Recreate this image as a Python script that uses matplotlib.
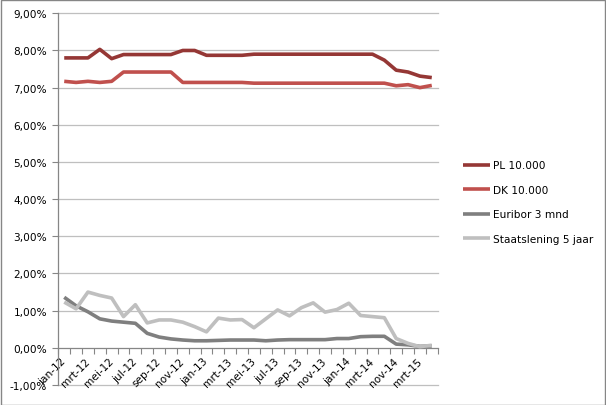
import numpy as np
import matplotlib
matplotlib.use("Agg")
import matplotlib.pyplot as plt
from matplotlib.patches import Rectangle

# ---- data ----
n_cat = 32
tick_labels = ["jan-12", "mrt-12", "mei-12", "jul-12", "sep-12", "nov-12",
               "jan-13", "mrt-13", "mei-13", "jul-13", "sep-13", "nov-13",
               "jan-14", "mrt-14", "nov-14", "mrt-15"]

pl = [7.80, 7.80, 7.80, 8.03, 7.78, 7.89, 7.89, 7.89, 7.89, 7.89, 8.00, 8.00,
      7.87, 7.87, 7.87, 7.87, 7.90, 7.90, 7.90, 7.90, 7.90, 7.90, 7.90, 7.90,
      7.90, 7.90, 7.90, 7.74, 7.47, 7.42, 7.31, 7.27]
dk = [7.17, 7.14, 7.17, 7.14, 7.17, 7.42, 7.42, 7.42, 7.42, 7.42, 7.14, 7.14,
      7.14, 7.14, 7.14, 7.14, 7.12, 7.12, 7.12, 7.12, 7.12, 7.12, 7.12, 7.12,
      7.12, 7.12, 7.12, 7.12, 7.05, 7.08, 7.00, 7.06]
euribor = [1.36, 1.13, 0.97, 0.78, 0.72, 0.69, 0.66, 0.39, 0.29, 0.24, 0.21, 0.19,
           0.19, 0.20, 0.21, 0.21, 0.21, 0.19, 0.21, 0.22, 0.22, 0.22, 0.22, 0.25,
           0.25, 0.30, 0.31, 0.31, 0.10, 0.08, 0.04, 0.05]
staat = [1.23, 1.05, 1.50, 1.41, 1.34, 0.84, 1.16, 0.67, 0.75, 0.75, 0.69, 0.57,
         0.43, 0.80, 0.75, 0.76, 0.54, 0.78, 1.02, 0.86, 1.08, 1.21, 0.96, 1.03,
         1.20, 0.87, 0.84, 0.81, 0.25, 0.12, 0.03, 0.07]

series_names = ["PL 10.000", "DK 10.000", "Euribor 3 mnd", "Staatslening 5 jaar"]
series_colors = ["#953735", "#C0504D", "#7F7F7F", "#BFBFBF"]

y_ticks = [-1, 0, 1, 2, 3, 4, 5, 6, 7, 8, 9]
y_tick_labels = ["-1,00%", "0,00%", "1,00%", "2,00%", "3,00%", "4,00%",
                 "5,00%", "6,00%", "7,00%", "8,00%", "9,00%"]

# ---- figure ----
W, H = 606, 406
fig = plt.figure(figsize=(W / 100, H / 100), dpi=100)
ax = fig.add_axes([58.3 / W, 1 - 386 / H, (437.7 - 58.3) / W, (386 - 14.3) / H])

x = np.arange(n_cat)
for vals, name, col in zip([pl, dk, euribor, staat], series_names, series_colors):
    ax.plot(x, vals, color=col, lw=2.6, label=name, solid_joinstyle="round",
            solid_capstyle="butt", zorder=3)

ax.set_xlim(-0.5, n_cat - 0.5)
ax.set_ylim(-1, 9)

# gridlines
for yv in y_ticks:
    if yv != 0:
        ax.axhline(yv, color="#BFBFBF", lw=0.9, zorder=1, clip_on=False)

ax.set_yticks(y_ticks)
ax.set_yticklabels(y_tick_labels, fontsize=7.6, color="#000000")
ax.tick_params(axis="y", length=4, width=0.8, color="#868686", pad=4)

# x axis at zero
for s in ["top", "right"]:
    ax.spines[s].set_visible(False)
ax.spines["left"].set_color("#868686")
ax.spines["left"].set_linewidth(0.9)
ax.spines["bottom"].set_position(("data", 0))
ax.spines["bottom"].set_color("#868686")
ax.spines["bottom"].set_linewidth(0.9)
ax.spines["bottom"].set_zorder(2)

ax.set_xticks(np.arange(-0.5, n_cat, 1))
ax.set_xticklabels([])
ax.tick_params(axis="x", which="major", length=4, width=0.8, color="#868686",
               direction="out")
ax.set_xticks(np.arange(0, n_cat, 2), minor=True)
ax.set_xticklabels(tick_labels, minor=True, fontsize=7.6, rotation=45,
                   ha="right", va="center", rotation_mode="anchor")
ax.tick_params(axis="x", which="minor", length=0, pad=8)

ax.legend(loc="center left", bbox_to_anchor=(462.7 / W, 1 - 203 / H),
          bbox_transform=fig.transFigure, frameon=False, fontsize=7.6,
          handlelength=2.6, handletextpad=0.25, labelspacing=1.37,
          borderpad=0, borderaxespad=0)

fig.patches.append(Rectangle((0.5 / W, 0.5 / H), 1 - 1.5 / W, 1 - 1.5 / H,
                             transform=fig.transFigure, fill=False,
                             edgecolor="#868686", lw=1.0))

fig.savefig("out.png", dpi=100)
